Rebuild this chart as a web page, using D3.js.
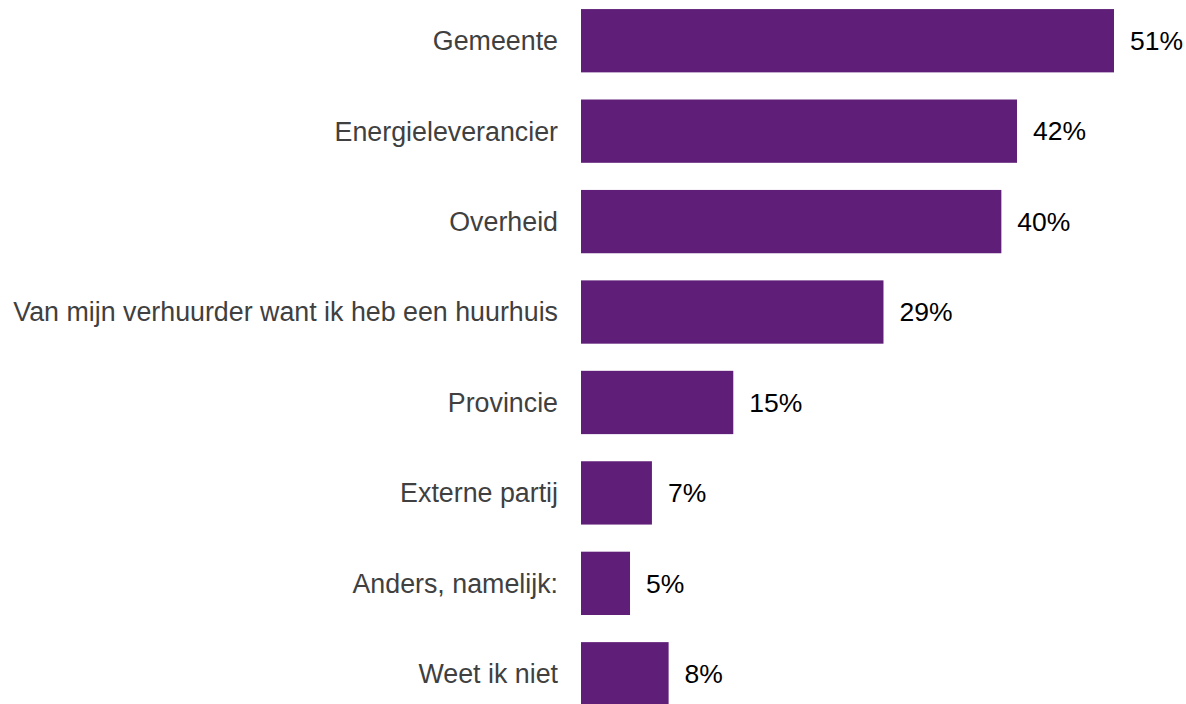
<!DOCTYPE html>
<html lang="nl">
<head>
  <meta charset="UTF-8">
  <title>Chart</title>
  <style>
    body { margin: 0; background: #fff; }
    text { font-family: "Liberation Sans", sans-serif; }
  </style>
</head>
<body>
  <svg id="svg" width="1186" height="704"></svg>

  <script src="https://d3js.org/d3.v7.min.js"></script>
  <script>
    const categories = ["Gemeente", "Energieleverancier", "Overheid",
      "Van mijn verhuurder want ik heb een huurhuis", "Provincie",
      "Externe partij", "Anders, namelijk:", "Weet ik niet"]
    const values = [51.1, 41.8, 40.3, 29.0, 14.6, 6.8, 4.7, 8.4]
    const labels = ["51%", "42%", "40%", "29%", "15%", "7%", "5%", "8%"]

    const svg = d3.select("#svg")

    const x = d3.scaleLinear()
      .domain([0, 51.1])
      .range([581, 1114])

    const y = d3.scaleBand()
      .domain(categories)
      .range([-4.5, 719])
      .paddingInner(0.3)
      .paddingOuter(0.15)

    svg.selectAll("rect")
      .data(values)
      .enter()
      .append("rect")
      .attr("x", x(0))
      .attr("y", (d, i) => y(categories[i]))
      .attr("width", d => x(d) - x(0))
      .attr("height", y.bandwidth())
      .attr("fill", "#5f1f78")

    // category names left of the bars
    svg.selectAll(".cat")
      .data(categories)
      .enter()
      .append("text")
      .attr("class", "cat")
      .attr("x", x(0) - 23)
      .attr("y", d => y(d) + y.bandwidth() / 2)
      .attr("dy", "0.35em")
      .attr("text-anchor", "end")
      .attr("font-size", 26.8)
      .attr("fill", "#404040")
      .text(d => d)

    // value labels
    svg.selectAll(".val")
      .data(values)
      .enter()
      .append("text")
      .attr("class", "val")
      .attr("x", d => x(d) + 16)
      .attr("y", (d, i) => y(categories[i]) + y.bandwidth() / 2)
      .attr("dy", "0.35em")
      .attr("font-size", 26.5)
      .attr("fill", "#000")
      .text((d, i) => labels[i])
  </script>
</body>
</html>
